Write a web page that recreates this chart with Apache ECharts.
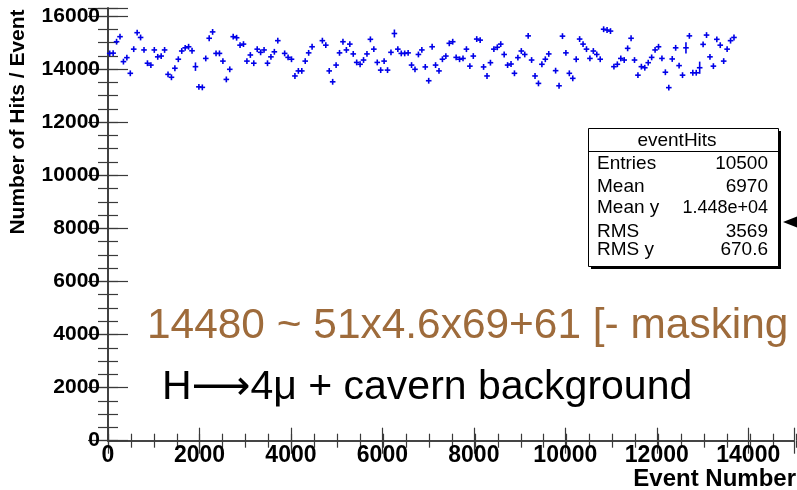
<!DOCTYPE html>
<html><head><meta charset="utf-8">
<script src="https://cdn.jsdelivr.net/npm/echarts@6/dist/echarts.min.js"></script>
<style>html,body{margin:0;padding:0;background:#fff}#c{width:797px;height:490px}</style>
</head><body><div id="c"></div>
<script>
// ---- data ----
const binWidth = 75; // event bins of the profile
const hits = [
14590,14600,15030,15220,14280,14430,13840,14750,15370,15190,
14720,14220,14150,14720,14460,14490,14720,13800,13690,14030,
14370,14680,14800,14840,14690,14090,13330,13310,14400,15160,
15400,14590,14590,14300,13610,13990,15220,15180,14900,14940,
14300,14530,14220,14750,14630,14720,14220,14460,14650,15070,
null,14590,14440,14370,13740,13930,13930,14300,14610,14840,
null,null,15070,14900,13930,13520,14150,14610,15030,14720,
14940,14570,14250,14180,14340,14570,15120,14750,14250,13960,
14300,13960,14630,15340,14750,14590,14590,14610,14150,13990,
14550,14720,14080,13560,14840,14150,13930,14370,14490,14970,
15030,14440,14370,14400,14750,14110,14490,15130,15090,14080,
13740,14240,14750,14820,14940,14550,14150,14190,13840,14430,
14680,14550,15250,14340,13740,13460,14180,14370,14570,null,
13940,13370,15240,14610,13840,13650,14370,15130,14940,14750,
14400,14680,14550,14370,15500,15470,15430,14090,14180,14400,
14340,14780,15160,14340,13770,14090,14050,14240,14440,14720,
14840,14400,13880,13300,14380,14800,14130,13770,14800,15250,
13860,13860,14050,14930,15280,14460,14110,15120,14900,14300,
14750,15070,15190
];
const defaultErr = 110;
const largeErr = [[25, 160], [83, 150], [168, 210], [172, 230]]; // [bin, error]
const xRange = [0, 15000];
const yRange = [0, 16300];
const xMajor = 2000, xMinor = 500, yMajor = 2000, yMinor = 500;
const xTitle = 'Event Number';
const yTitle = 'Number of Hits / Event';
const statsTitle = 'eventHits';
const statsLabels = ['Entries', 'Mean', 'Mean y', 'RMS', 'RMS y'];
const statsValues = ['10500', '6970', '1.448e+04', '3569', '670.6'];
const note1 = '14480 ~ 51x4.6x69+61 [- masking';
const note2 = 'H\u27f64\u03bc + cavern background';

// ---- build ----
const errMap = {};
largeErr.forEach(([b, e]) => errMap[b] = e);
const points = [];
hits.forEach((v, i) => {
  if (v == null) return;
  points.push([(i + 0.5) * binWidth, v, errMap[i] || defaultErr]);
});

const FF = '"Liberation Sans", Arial, Helvetica, "DejaVu Sans", sans-serif';
const axisCol = '#3a3a3a';
const markCol = '#0000e8';

function xAx(grid, pos, interval, len, labels, line) {
  return {
    type: 'value', gridIndex: grid, position: pos, min: xRange[0], max: xRange[1], interval: interval,
    axisLine: {show: line, lineStyle: {color: axisCol, width: 1.6}},
    axisTick: {show: true, inside: true, length: len, lineStyle: {color: axisCol, width: 1.2}},
    axisLabel: {show: labels, fontFamily: FF, fontWeight: 'bold', fontSize: 23, color: '#000', margin: 3,
      formatter: v => (v % xMajor === 0 && v < xRange[1] ? String(v) : '')},
    splitLine: {show: false}
  };
}
function yAx(grid, pos, interval, len, labels, line) {
  return {
    type: 'value', gridIndex: grid, position: pos, min: yRange[0], max: yRange[1], interval: interval,
    axisLine: {show: line, lineStyle: {color: axisCol, width: 1.6}},
    axisTick: {show: true, inside: true, length: len, lineStyle: {color: axisCol, width: 1.2}},
    axisLabel: {show: labels, fontFamily: FF, fontWeight: 'bold', fontSize: 21, color: '#000', margin: 8,
      formatter: v => (v % yMajor === 0 ? String(v) : '')},
    splitLine: {show: false}
  };
}

const gridRect = {left: 108, top: 8, width: 688, height: 432.7};

const statsX = 588.5, statsY = 128.5, statsW = 190, statsH = 138;
const rowY = [164, 187, 208, 232, 250];
const graphics = [
  {type: 'rect', shape: {x: statsX + 2.5, y: statsY + 2.5, width: statsW, height: statsH}, style: {fill: '#000'}, z: 50},
  {type: 'rect', shape: {x: statsX, y: statsY, width: statsW, height: statsH}, style: {fill: '#fff', stroke: '#000', lineWidth: 1}, z: 51},
  {type: 'line', shape: {x1: statsX, y1: 151.5, x2: statsX + statsW, y2: 151.5}, style: {stroke: '#000', lineWidth: 1}, z: 52},
  {type: 'text', x: 677, y: 141, style: {text: statsTitle, font: '19px ' + FF, fill: '#000', align: 'center', verticalAlign: 'middle'}, z: 52},
  {type: 'polygon', shape: {points: [[783, 222], [797, 216.5], [797, 227.5]]}, style: {fill: '#000'}, z: 52},
  {type: 'text', x: 147, y: 326, scaleX: 1.01, style: {text: note1, font: '42px ' + FF, fill: '#9e6b3b', align: 'left', verticalAlign: 'middle'}, z: 60},
  {type: 'text', x: 162, y: 388, style: {text: note2, font: '41px ' + FF, fill: '#000', align: 'left', verticalAlign: 'middle'}, z: 60},
  {type: 'text', x: 796, y: 479, style: {text: xTitle, font: 'bold 24px ' + FF, fill: '#000', align: 'right', verticalAlign: 'middle'}, z: 60},
  {type: 'text', x: 18, y: 122, rotation: Math.PI / 2, style: {text: yTitle, font: 'bold 21px ' + FF, fill: '#000', align: 'center', verticalAlign: 'middle'}, z: 60}
];
statsLabels.forEach((t, i) => {
  graphics.push({type: 'text', x: 597, y: rowY[i], style: {text: t, font: '19px ' + FF, fill: '#000', align: 'left', verticalAlign: 'middle'}, z: 52});
  graphics.push({type: 'text', x: 768, y: rowY[i], style: {text: statsValues[i], font: (i === 2 ? '18px ' : '19px ') + FF, fill: '#000', align: 'right', verticalAlign: 'middle'}, z: 52});
});

const chart = echarts.init(document.getElementById('c'), null, {renderer: 'canvas'});
chart.setOption({
  animation: false,
  backgroundColor: '#fff',
  grid: [Object.assign({}, gridRect), Object.assign({}, gridRect)],
  xAxis: [
    xAx(0, 'bottom', xMajor, 13, true, true),
    xAx(0, 'top', xMajor, 13, false, true),
    xAx(1, 'bottom', xMinor, 7, false, false),
    xAx(1, 'top', xMinor, 7, false, false)
  ],
  yAxis: [
    yAx(0, 'left', yMajor, 20, true, true),
    yAx(0, 'right', yMajor, 20, false, true),
    yAx(1, 'left', yMinor, 10, false, false),
    yAx(1, 'right', yMinor, 10, false, false)
  ],
  series: [{
    type: 'custom', xAxisIndex: 0, yAxisIndex: 0, data: points,
    renderItem: function (params, api) {
      const x = api.value(0), y = api.value(1), e = api.value(2);
      const c = api.coord([x, y]);
      const t = api.coord([x, y + e]);
      const b = api.coord([x, y - e]);
      const hw = 2.8;
      const st = {stroke: markCol, lineWidth: 1.6};
      return {type: 'group', children: [
        {type: 'line', shape: {x1: c[0] - hw, y1: c[1], x2: c[0] + hw, y2: c[1]}, style: st},
        {type: 'line', shape: {x1: c[0], y1: t[1], x2: c[0], y2: b[1]}, style: st}
      ]};
    }
  }],
  graphic: graphics
});
</script></body></html>
